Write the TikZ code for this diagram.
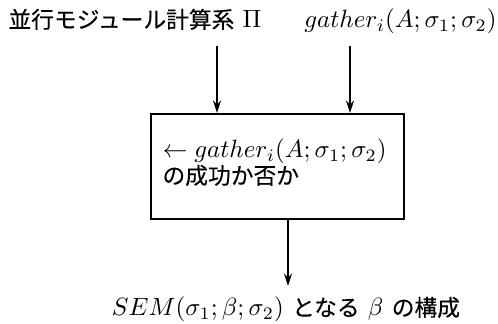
\documentclass[tikz,border=0pt]{standalone}
\usepackage{fontspec}
\newfontfamily\cjk[Scale=0.91,FakeBold=0.25]{Noto Sans CJK JP}
\usetikzlibrary{arrows.meta}
\tikzset{
  lbl/.style={inner sep=0pt, font=\fontsize{10}{12}\selectfont},
  boxnode/.style={draw, line width=0.8pt, minimum width=253*0.4pt, minimum height=105*0.4pt, inner sep=0pt},
  arr/.style={line width=0.6pt, -{Stealth[length=5pt, width=3.2pt]}}
}
\begin{document}
\begin{tikzpicture}[x=0.4pt, y=-0.4pt]
\useasboundingbox (0,0) rectangle (498,324);
\node[lbl, anchor=base west] (sys) at (8,28) {{\cjk 並行モジュール計算系} $\Pi$};
\node[lbl, anchor=base east] (g) at (497,28) {$gather_i(A;\sigma_1;\sigma_2)$};
\node[boxnode, anchor=north west] (box) at (150,113) {};
\node[lbl, anchor=base west] (t1) at (162,158) {$\leftarrow gather_i(A;\sigma_1;\sigma_2)$};
\node[lbl, anchor=base west] (t2) at (162,184) {\cjk の成功か否か};
\node[lbl, anchor=base] (res) at (286,316) {$SEM(\sigma_1;\beta;\sigma_2)$ {\cjk となる} $\beta$ {\cjk の構成}};
\coordinate (a1s) at (217,46);
\coordinate (a2s) at (350,46);
\draw[arr] (a1s) -- (a1s |- box.north);
\draw[arr] (a2s) -- (a2s |- box.north);
\coordinate (a3e) at (288,286);
\draw[arr] (box.south -| a3e) -- (a3e);
\end{tikzpicture}
\end{document}
